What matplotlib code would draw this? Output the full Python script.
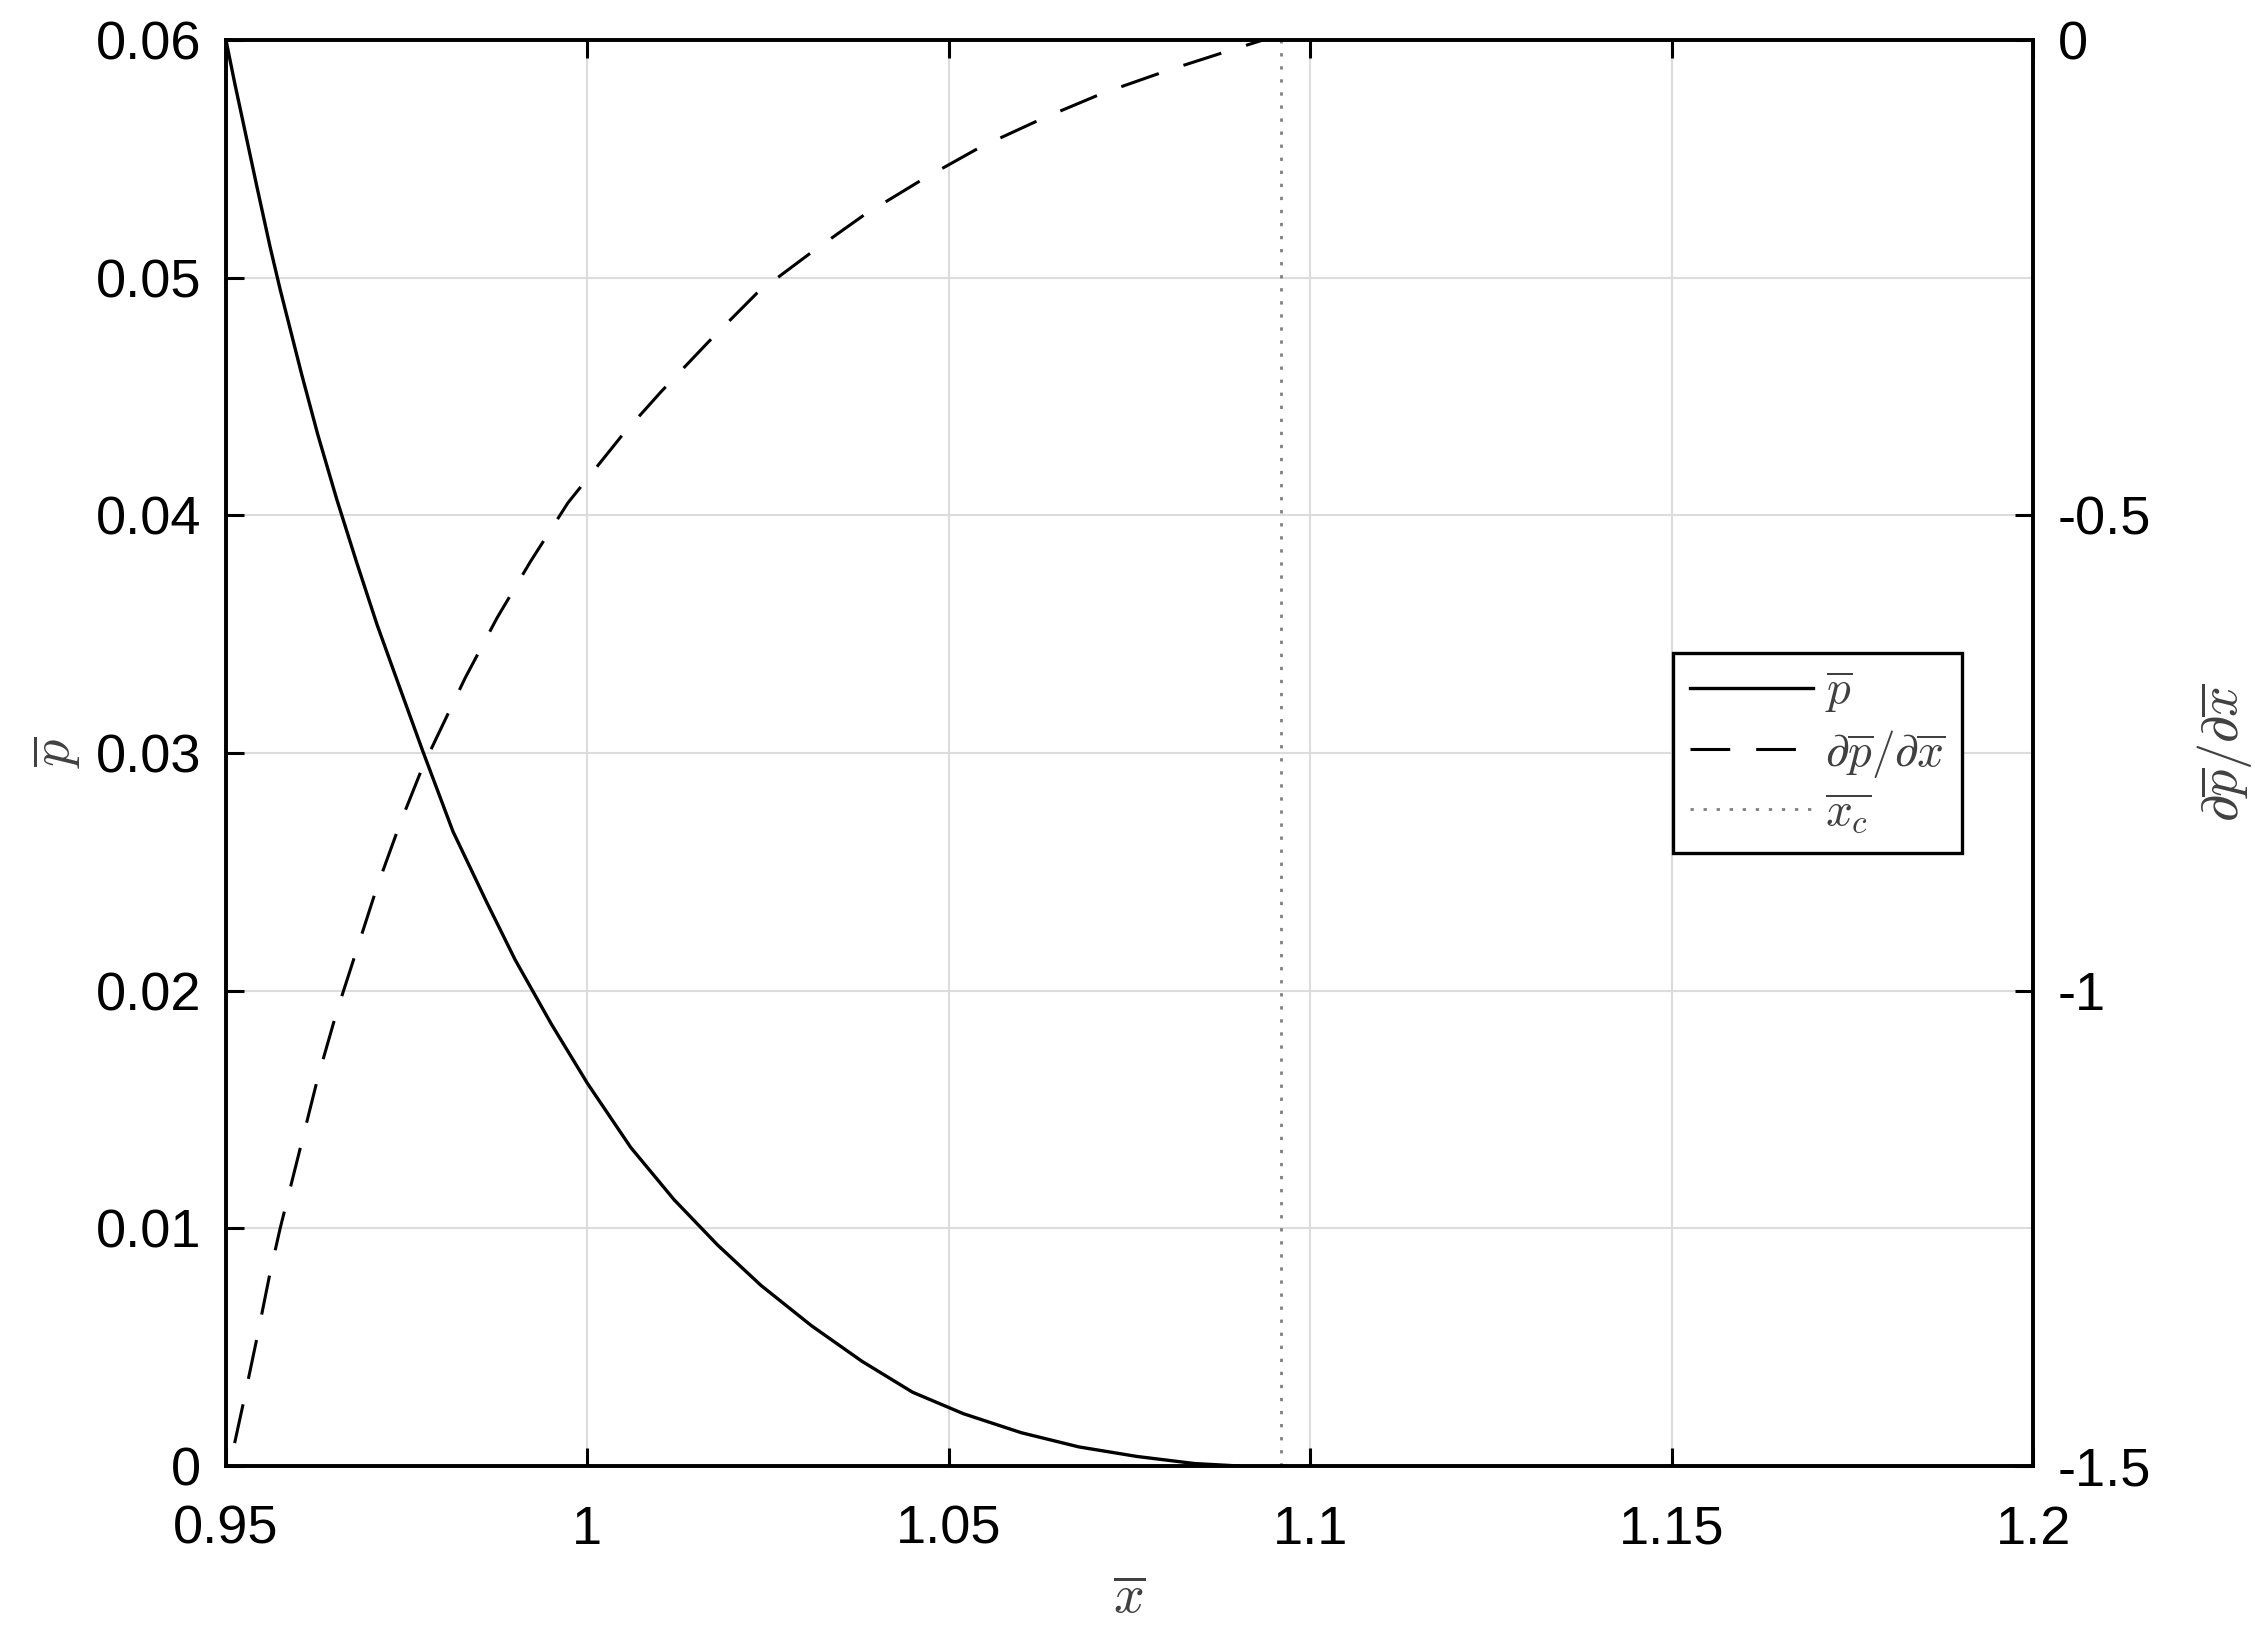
import matplotlib.pyplot as plt

# solid curve: p-bar (left axis)
x_p = [0.9500, 0.9512, 0.9524, 0.9543, 0.9561, 0.9575, 0.9605, 0.9627, 0.9653,
       0.9681, 0.9709, 0.9741, 0.9772, 0.9814, 0.9861, 0.9900, 0.9950, 1.0000,
       1.0060, 1.0120, 1.0180, 1.0240, 1.0310, 1.0380, 1.0450, 1.0520, 1.0600,
       1.0680, 1.0760, 1.0840, 1.0900]
p_bar = [0.0600, 0.0582, 0.0565, 0.0538, 0.0513, 0.0495, 0.0459, 0.0434, 0.0407,
         0.0380, 0.0354, 0.0327, 0.0301, 0.0267, 0.0237, 0.0213, 0.0186, 0.0161,
         0.0134, 0.0112, 0.0093, 0.0076, 0.0059, 0.0044, 0.0031, 0.0022, 0.0014,
         0.0008, 0.0004, 0.0001, 0.0000]

# dashed curve: dp/dx (right axis)
x_dp = [0.9512, 0.9524, 0.9543, 0.9561, 0.9575, 0.9605, 0.9627, 0.9653, 0.9681,
        0.9709, 0.9741, 0.9772, 0.9792, 0.9831, 0.9875, 0.9921, 0.9973, 1.0049,
        1.0102, 1.0167, 1.0235, 1.0309, 1.0383, 1.0463, 1.0543, 1.0630, 1.0713,
        1.0803, 1.0889, 1.0935]
dp_dx = [-1.476, -1.434, -1.365, -1.297, -1.250, -1.159, -1.092, -1.023, -0.957,
         -0.891, -0.824, -0.765, -0.733, -0.671, -0.608, -0.549, -0.487, -0.415,
         -0.370, -0.318, -0.266, -0.224, -0.184, -0.147, -0.113, -0.0825, -0.056,
         -0.032, -0.011, 0.0]

x_c = 1.096

x_ticks = [0.95, 1.0, 1.05, 1.1, 1.15, 1.2]
x_labels = ['0.95', '1', '1.05', '1.1', '1.15', '1.2']
p_ticks = [0, 0.01, 0.02, 0.03, 0.04, 0.05, 0.06]
p_labels = ['0', '0.01', '0.02', '0.03', '0.04', '0.05', '0.06']
dp_ticks = [-1.5, -1.0, -0.5, 0]
dp_labels = ['-1.5', '-1', '-0.5', '0']

plt.rcParams['font.family'] = 'Liberation Sans'
plt.rcParams['mathtext.fontset'] = 'cm'

fs = 39
fig = plt.figure(figsize=(22.55, 16.37), dpi=100)
ax = fig.add_axes([0.1002, 0.1045, 0.8014, 0.8711])
ax2 = ax.twinx()

l1, = ax.plot(x_p, p_bar, color='black', lw=2.4, label=r'$\overline{p}$')
l2, = ax2.plot(x_dp, dp_dx, color='black', lw=2.2, dashes=(13, 8.5),
               label=r'$\partial\overline{p}/\partial\overline{x}$')
l3 = ax.axvline(x_c, color='0.5', lw=2.0, dashes=(1.2, 3.5),
                label=r'$\overline{x_c}$')

ax.set_xlim(0.95, 1.2)
ax.set_ylim(0, 0.06)
ax2.set_ylim(-1.5, 0)
ax.set_xticks(x_ticks, x_labels)
ax.set_yticks(p_ticks, p_labels)
ax2.set_yticks(dp_ticks, dp_labels)

ax.grid(True, color='#dcdcdc', lw=1.5)
ax.set_axisbelow(True)

ax.tick_params(axis='both', direction='in', length=13, width=2.2, labelsize=fs)
ax.tick_params(axis='x', top=True, pad=28)
ax.tick_params(axis='y', right=False, pad=18)
ax2.tick_params(axis='y', direction='in', length=13, width=2.2, labelsize=fs, pad=18)
for a in (ax, ax2):
    for s in a.spines.values():
        s.set_linewidth(2.6)

ax.set_xlabel(r'$\overline{x}$', fontsize=fs, color='#404040', labelpad=14)
ax.set_ylabel(r'$\overline{p}$', fontsize=fs, color='#404040', labelpad=9)
ax2.set_ylabel(r'$\partial\overline{p}/\partial\overline{x}$', fontsize=fs,
               color='#404040', labelpad=31)

leg = ax2.legend(handles=[l1, l2, l3], loc='upper left',
                 bbox_to_anchor=(0.801, 0.570), fontsize=34, frameon=True,
                 fancybox=False, edgecolor='black', framealpha=1,
                 handlelength=2.6, handletextpad=0.25, labelspacing=0.25,
                 borderpad=0.35, borderaxespad=0)
leg.get_frame().set_linewidth(2.4)
for t in leg.get_texts():
    t.set_color('#404040')

fig.savefig('out.png', dpi=100)
